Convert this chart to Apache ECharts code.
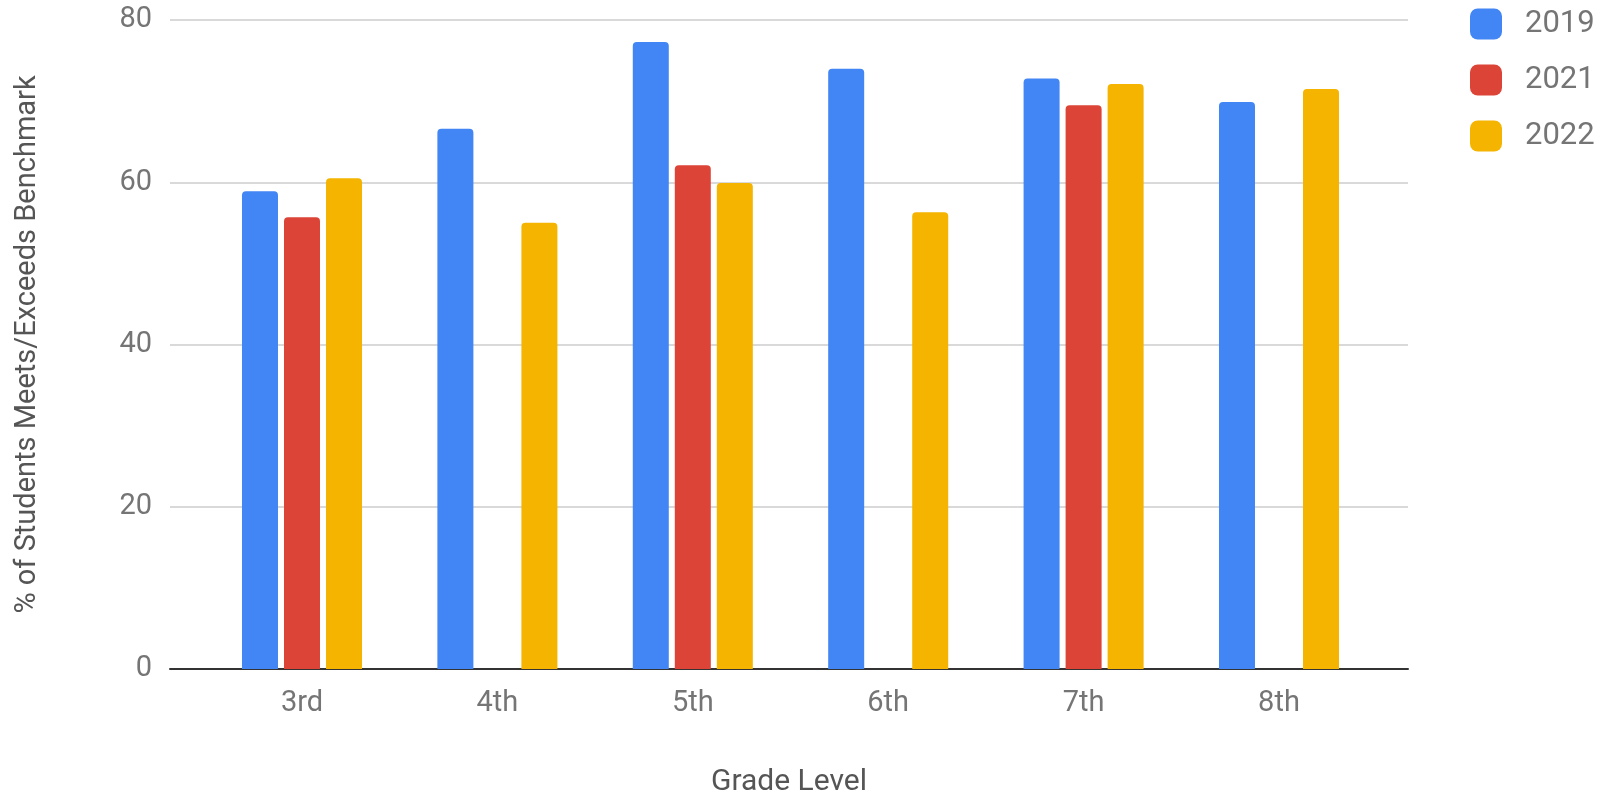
<!DOCTYPE html>
<html>
<head>
<meta charset="utf-8">
<script src="https://cdn.jsdelivr.net/npm/echarts@6/dist/echarts.min.js"></script>
<style>
html,body{margin:0;padding:0;background:#fff;}
#chart{width:1608px;height:794px;}
</style>
</head>
<body>
<div id="chart"></div>
<script>
const categories = ['3rd', '4th', '5th', '6th', '7th', '8th'];
const seriesNames = ['2019', '2021', '2022'];
const values2019 = [58.9, 66.6, 77.3, 74.0, 72.8, 69.9];
const values2021 = [55.7, null, 62.1, null, 69.5, null];
const values2022 = [60.5, 55.0, 59.9, 56.3, 72.1, 71.5];
const yTicks = [0, 20, 40, 60, 80];
const colors = ['#4285F4', '#DB4437', '#F4B400'];

const FONT = 'Roboto';
const chart = echarts.init(document.getElementById('chart'), null, {renderer: 'canvas'});

const barSeries = [values2019, values2021, values2022].map((vals, i) => ({
  name: seriesNames[i],
  type: 'bar',
  xAxisIndex: 1,
  yAxisIndex: 1,
  data: vals,
  barWidth: 36,
  barGap: '16.7%',
  itemStyle: {color: colors[i], borderRadius: [4, 4, 0, 0]},
  emphasis: {disabled: true}
}));

chart.setOption({
  animation: false,
  backgroundColor: '#ffffff',
  color: colors,
  textStyle: {fontFamily: FONT},
  grid: [
    {left: 170, right: 200, top: 20, bottom: 125, containLabel: false, outerBoundsMode: 'none'},
    {left: 204.3, right: 231.3, top: 20, bottom: 125, containLabel: false, outerBoundsMode: 'none'}
  ],
  legend: {
    orient: 'vertical',
    left: 1465,
    top: 1,
    itemWidth: 32,
    itemHeight: 31,
    itemGap: 20,
    data: seriesNames,
    textStyle: {fontFamily: FONT, fontSize: 31, color: '#757575', lineHeight: 36, padding: [0, 0, 0, 18]}
  },
  xAxis: [
    {
      type: 'category',
      gridIndex: 0,
      data: [''],
      name: 'Grade Level',
      nameLocation: 'middle',
      nameGap: 98,
      nameTextStyle: {fontFamily: FONT, fontSize: 30, color: '#555555'},
      axisLine: {show: true, lineStyle: {color: '#333333', width: 2}},
      axisTick: {show: false},
      axisLabel: {show: false},
      splitLine: {show: false}
    },
    {
      type: 'category',
      gridIndex: 1,
      data: categories,
      axisLine: {show: false},
      axisTick: {show: false},
      axisLabel: {fontFamily: FONT, fontSize: 29, color: '#757575', margin: 20},
      splitLine: {show: false}
    }
  ],
  yAxis: [
    {
      type: 'value',
      gridIndex: 0,
      min: yTicks[0],
      max: yTicks[yTicks.length - 1],
      interval: yTicks[1] - yTicks[0],
      name: '% of Students Meets/Exceeds Benchmark',
      nameLocation: 'middle',
      nameGap: 128,
      nameTextStyle: {fontFamily: FONT, fontSize: 29, color: '#555555'},
      axisLine: {show: false},
      axisTick: {show: false},
      axisLabel: {fontFamily: FONT, fontSize: 29, color: '#757575', margin: 18},
      splitLine: {show: true, lineStyle: {color: '#cccccc', width: 1.5}}
    },
    {
      type: 'value',
      gridIndex: 1,
      min: yTicks[0],
      max: yTicks[yTicks.length - 1],
      interval: yTicks[1] - yTicks[0],
      show: false,
      splitLine: {show: false}
    }
  ],
  series: barSeries
});
</script>
</body>
</html>
